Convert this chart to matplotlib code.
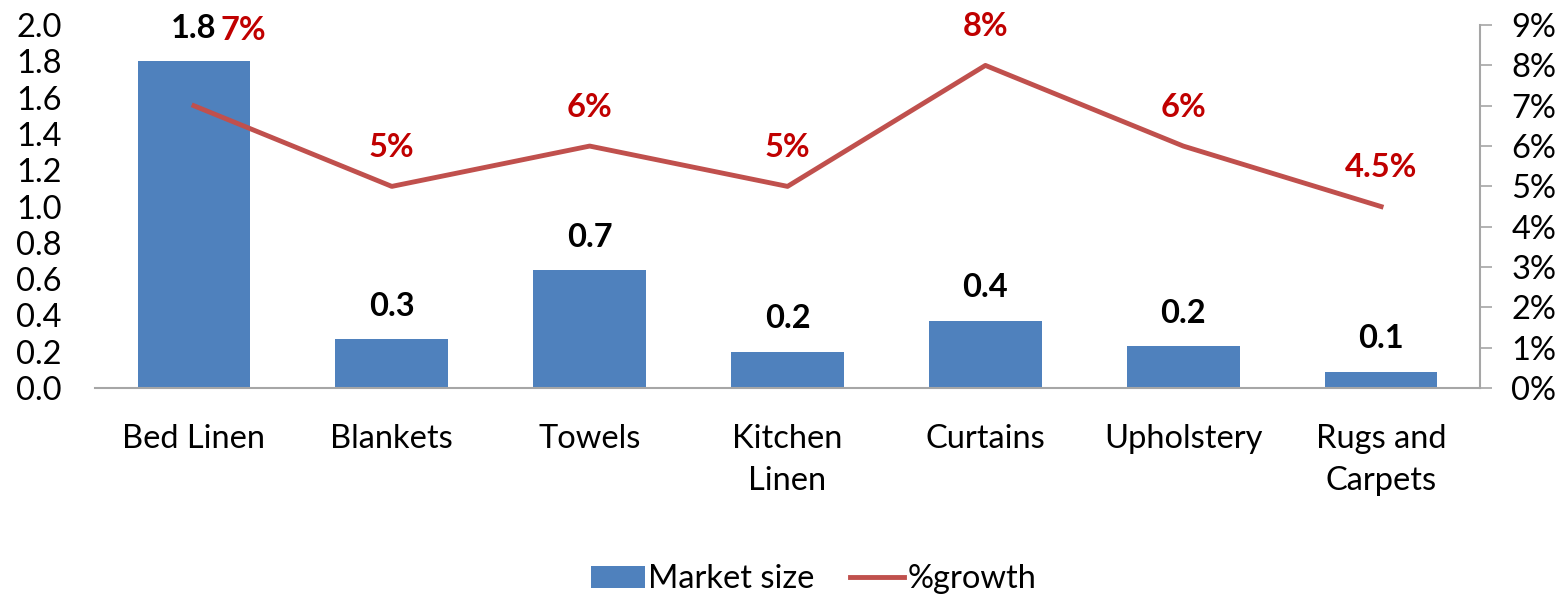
import matplotlib.pyplot as plt
from matplotlib.ticker import FuncFormatter

plt.rcParams['font.family'] = ['Lato', 'DejaVu Sans']

categories = ['Bed Linen', 'Blankets', 'Towels', 'Kitchen\nLinen', 'Curtains', 'Upholstery', 'Rugs and\nCarpets']
market_size = [1.8, 0.27, 0.65, 0.2, 0.37, 0.23, 0.09]
growth = [7, 5, 6, 5, 8, 6, 4.5]
growth_labels = ['7%', '5%', '6%', '5%', '8%', '6%', '4.5%']

bar_color = '#4F81BD'
line_color = '#C0504D'
label_red = '#C00000'
axis_gray = '#A6A6A6'
fs = 23.5

fig = plt.figure(figsize=(15.68, 5.97), dpi=100)
ax = fig.add_axes([0.0606, 0.350, 0.8833, 0.608])
ax2 = ax.twinx()

x = list(range(len(categories)))
bars = ax.bar(x, market_size, width=0.57, color=bar_color, label='Market size', zorder=2)
line, = ax2.plot(x, growth, color=line_color, lw=3.5, label='%growth', zorder=3)

ax.set_xlim(-0.5, len(categories) - 0.5)
ax.set_ylim(0, 2.0)
ax.set_yticks([i * 0.2 for i in range(11)])
ax.yaxis.set_major_formatter(FuncFormatter(lambda v, p: f"{v:.1f}"))
ax2.set_ylim(0, 9)
ax2.set_yticks(range(10))
ax2.yaxis.set_major_formatter(FuncFormatter(lambda v, p: f"{int(v)}%"))

ax.set_xticks(x)
ax.set_xticklabels(categories, fontsize=fs, linespacing=1.5)
ax.tick_params(axis='x', length=0, pad=26)
ax.tick_params(axis='y', length=0, pad=24, labelsize=fs)
ax2.tick_params(axis='y', length=8.5, width=1.2, color=axis_gray, pad=14, labelsize=fs, direction='out')

for s in ['top', 'left', 'right']:
    ax.spines[s].set_visible(False)
for s in ['top', 'left', 'bottom']:
    ax2.spines[s].set_visible(False)
ax.spines['bottom'].set_color(axis_gray)
ax.spines['bottom'].set_linewidth(1.5)
ax2.spines['right'].set_color(axis_gray)
ax2.spines['right'].set_linewidth(1.5)

# bar value labels
for xi, v in zip(x, market_size):
    ax.annotate(f"{v:.1f}", (xi, v), xytext=(0, 33), textcoords='offset pixels',
                ha='center', va='center', fontsize=fs, fontweight='bold', color='black')

# growth labels
for i, (xi, g, lab) in enumerate(zip(x, growth, growth_labels)):
    off = (49, 75) if i == 0 else (0, 39)
    ax2.annotate(lab, (xi, g), xytext=off, textcoords='offset pixels',
                 ha='center', va='center', fontsize=fs, fontweight='bold', color=label_red)

fig.legend([bars, line], ['Market size', '%growth'], loc='lower center',
           bbox_to_anchor=(0.519, -0.045), ncol=2, frameon=False, fontsize=fs,
           handlelength=1.65, handleheight=0.65, columnspacing=1.1, handletextpad=0.1)

fig.savefig('out.png', dpi=100)
